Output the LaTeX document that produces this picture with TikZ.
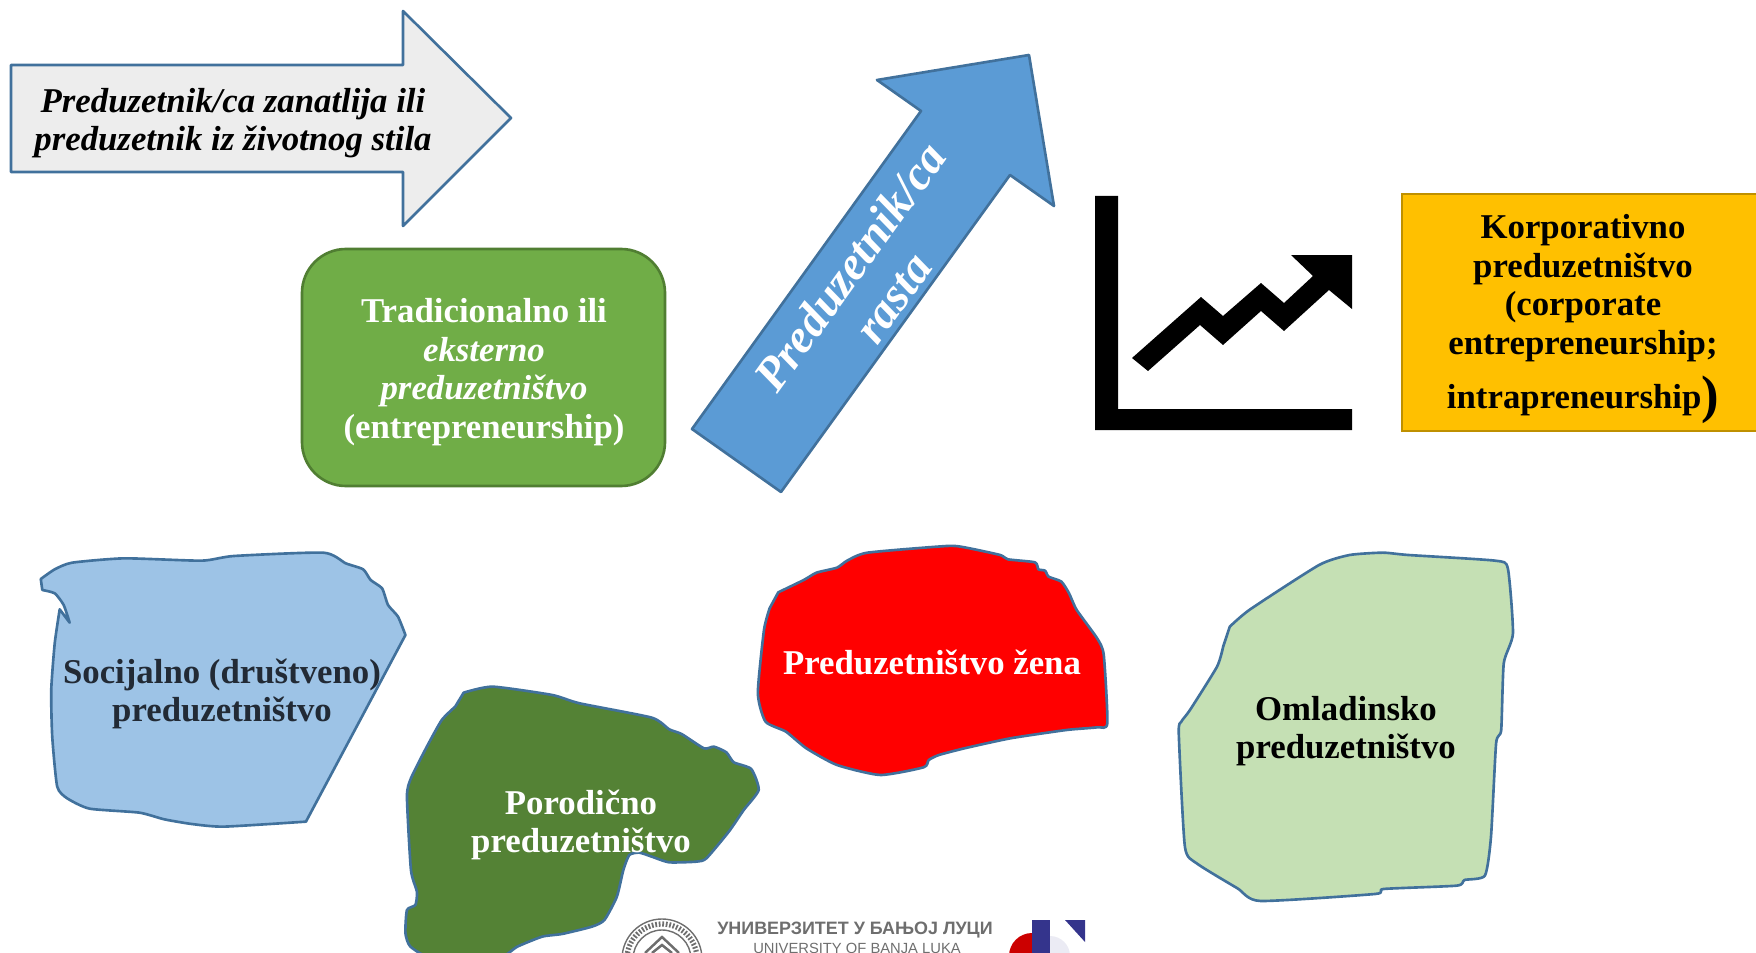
\documentclass[tikz,border=0pt]{standalone}
\usepackage{fontspec}
\setmainfont{Liberation Serif}
\newfontfamily\logofont{Liberation Sans}
\definecolor{arrowedge}{HTML}{41719C}
\definecolor{arrowgrey}{HTML}{EDEDED}
\definecolor{arrowblue}{HTML}{5B9BD5}
\definecolor{boxgreen}{HTML}{70AD47}
\definecolor{boxgreenedge}{HTML}{507E32}
\definecolor{boxyellow}{HTML}{FFC000}
\definecolor{boxyellowedge}{HTML}{BF9000}
\definecolor{blobblue}{HTML}{9DC3E6}
\definecolor{blobdark}{HTML}{548235}
\definecolor{bloblight}{HTML}{C5E0B4}
\definecolor{inkdark}{HTML}{222A35}
\definecolor{logogrey}{HTML}{6E6E6E}
\definecolor{logoblue}{HTML}{34348C}
\tikzset{
	shapeline/.style={draw=arrowedge, line width=1.5pt, line join=round},
	rough/.style={smooth, tension=0.35},
	label/.style={align=center, font=\fontsize{19.8}{21.9}\selectfont\bfseries, inner sep=0pt},
}
\begin{document}
\begin{tikzpicture}[x=0.02cm, y=-0.02cm]
	\useasboundingbox (0,0) rectangle (1756,953);
	\clip (0,0) rectangle (1756,953);

	\draw[shapeline, fill=arrowgrey] (11,65) -- (403,65) -- (403,11) -- (511,118) -- (403,226) -- (403,172) -- (11,172) -- cycle;
	\node[label, font=\fontsize{19.8}{21.9}\selectfont\bfseries\itshape] (lifestyle) at (233,123) {Preduzetnik/ca zanatlija ili\\preduzetnik iz životnog stila};

	\draw[draw=boxgreenedge, line width=1.5pt, fill=boxgreen, rounded corners=25] (302,249) rectangle (665,486);
	\node[label, text=white] (external) at (484,372) {Tradicionalno ili\\\textit{eksterno}\\\textit{preduzetništvo}\\(entrepreneurship)};

	\draw[shapeline, fill=arrowblue] (1029,55) -- (877,80) -- (921,111) -- (692,429) -- (781,492) -- (1010,175) -- (1054,206) -- cycle;
	\node[label, text=white, rotate=54.2, font=\fontsize{27}{30}\selectfont\bfseries\itshape] (growth) at (871,282) {Preduzetnik/ca\\rasta};

	\fill[black] (1095,196) -- (1118,196) -- (1118,409) -- (1352,409) -- (1352,430) -- (1095,430) -- cycle;
	\fill[black] (1132,358) -- (1201,297) -- (1223,316) -- (1261,283) -- (1284,303) -- (1313,276) -- (1291,255) -- (1352,255) -- (1352,309) -- (1329,290) -- (1284,331) -- (1261,311) -- (1223,345) -- (1200,325) -- (1148,371) -- cycle;

	\draw[draw=boxyellowedge, line width=1.5pt, fill=boxyellow] (1402,194) rectangle (1770,431);
	\node[label] (corporate) at (1583,319) {Korporativno\\preduzetništvo\\(corporate\\entrepreneurship;\\[7pt]intrapreneurship\raisebox{-2pt}{\fontsize{30}{30}\selectfont)}};

	\begin{scope}[shift={(0,530)}, xscale=0.4975, yscale=0.3333]
		\draw[shapeline, fill=blobblue] plot[rough] coordinates {(82,147) (110,118) (145,98) (250,85) (405,92) (470,78) (650,68) (695,100) (730,118) (745,150) (768,175) (780,225) (800,260) (815,315)} -- plot[rough] coordinates {(615,875) (450,890) (385,882) (330,868) (280,848) (180,836) (135,805) (115,770) (105,620) (103,480) (110,340) (120,238)} -- plot[rough] coordinates {(140,278) (128,225) (110,190) (85,180)} -- cycle;
		\draw[shapeline, fill=blobdark] plot[rough] coordinates {(932,488) (990,470) (1110,495) (1165,520) (1310,563) (1345,598) (1370,612) (1415,655) (1435,650) (1460,667) (1475,697) (1510,717) (1525,780) (1495,840) (1465,905) (1420,985) (1400,995) (1345,997) (1310,980) (1285,968) (1265,975) (1253,1020) (1240,1100) (1215,1170) (1190,1190) (1130,1212) (1090,1220) (1040,1250) (1000,1285) (870,1285) (825,1250) (815,1210) (818,1140) (835,1125) (838,1085) (826,1020) (818,800) (826,745) (858,650) (888,570) (915,530)} -- cycle;
	\end{scope}
	\begin{scope}[shift={(740,530)}, xscale=0.5102, yscale=0.3333]
		\draw[shapeline, fill=red] plot[rough] coordinates {(75,187) (125,150) (150,128) (190,113) (210,92) (250,68) (405,48) (440,52) (510,75) (525,88) (578,97) (585,118) (598,122) (605,140) (630,155) (645,190) (660,240) (700,325) (713,375) (720,580) (700,592) (640,600) (530,625) (440,655) (390,675) (370,690) (360,712) (275,735) (190,705) (130,655) (90,605) (50,575) (35,490) (47,300) (58,235)} -- cycle;
		\draw[shapeline, fill=bloblight] plot[rough] coordinates {(960,290) (1000,238) (1135,105) (1195,75) (1260,68) (1310,75) (1480,92) (1505,115) (1515,310) (1497,400) (1492,600) (1482,640) (1472,920) (1460,1037) (1420,1050) (1405,1067) (1262,1077) (1245,1092) (1020,1113) (975,1075) (895,1000) (872,950) (860,610) (865,575) (882,540) (935,410) (947,350)} -- cycle;
	\end{scope}

	\node[label, text=inkdark] (social) at (222,694) {Socijalno (društveno)\\preduzetništvo};
	\node[label, text=white] (family) at (581,825) {Porodično\\preduzetništvo};
	\node[label, text=white] (women) at (932,662) {Preduzetništvo žena};
	\node[label] (youth) at (1346,731) {Omladinsko\\preduzetništvo};

	\draw[logogrey, line width=0.8pt] (662,959) circle (40);
	\draw[logogrey, line width=3pt, dash pattern=on 1pt off 1pt] (662,959) circle (35);
	\draw[logogrey, line width=0.8pt] (662,959) circle (29);
	\draw[logogrey, line width=1.4pt] (645,953) -- (662,937) -- (679,953);
	\draw[logogrey, line width=1.4pt] (652,953) -- (662,945) -- (672,953);
	\node[inner sep=0pt, text=logogrey, font=\logofont\bfseries\fontsize{10.2}{12}\selectfont] (logotop) at (855,930) {УНИВЕРЗИТЕТ У БАЊОЈ ЛУЦИ};
	\node[inner sep=0pt, text=logogrey, font=\logofont\fontsize{8.4}{10}\selectfont] (logobottom) at (857,948) {UNIVERSITY OF BANJA LUKA};
	\fill[red!80!black] (1032,933) arc (270:180:23) -- (1009,960) -- (1032,960) -- cycle;
	\fill[logoblue!10] (1050,936) arc (270:360:20) -- (1070,960) -- (1050,960) -- cycle;
	\fill[logoblue] (1032,920) rectangle (1050,960);
	\fill[logoblue] (1065,920) -- (1085,920) -- (1085,942) -- cycle;
\end{tikzpicture}
\end{document}
